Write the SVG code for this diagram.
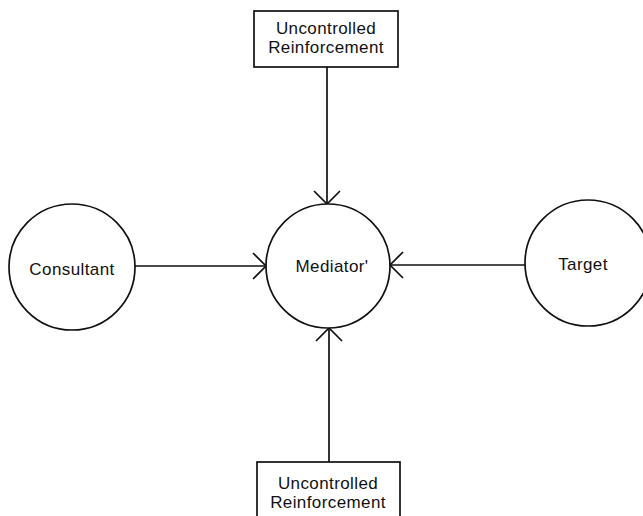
<svg xmlns="http://www.w3.org/2000/svg" width="643" height="516" viewBox="0 0 643 516">
<style>
.shape{fill:#fff;stroke:#111;stroke-width:1.7}
.line{fill:none;stroke:#111;stroke-width:1.7}
text{font-family:"Liberation Sans",Arial,sans-serif;font-size:17px;letter-spacing:0.4px;fill:#111;text-anchor:middle}
</style>
<defs>
<marker id="open" viewBox="0 0 20 30" refX="18" refY="15" markerWidth="20" markerHeight="30" markerUnits="userSpaceOnUse" orient="auto">
<path d="M5,2 L18,15 L5,28" fill="none" stroke="#111" stroke-width="1.7"/>
</marker>
</defs>
<rect width="643" height="516" fill="#fff"/>
<g id="connectors">
<line class="line" x1="327" y1="67" x2="327" y2="204" marker-end="url(#open)"/>
<line class="line" x1="329" y1="462" x2="329" y2="328" marker-end="url(#open)"/>
<line class="line" x1="135" y1="266" x2="266" y2="266" marker-end="url(#open)"/>
<line class="line" x1="525" y1="265" x2="390" y2="265" marker-end="url(#open)"/>
</g>
<g id="top-reinforcement">
<rect class="shape" x="254" y="11" width="144" height="56"/>
<text x="326" y="34">Uncontrolled</text>
<text x="326" y="53">Reinforcement</text>
</g>
<g id="bottom-reinforcement">
<rect class="shape" x="257" y="462" width="143" height="60"/>
<text x="328" y="489">Uncontrolled</text>
<text x="328" y="508">Reinforcement</text>
</g>
<g id="consultant">
<circle class="shape" cx="72" cy="267" r="63"/>
<text x="72" y="275">Consultant</text>
</g>
<g id="mediator">
<circle class="shape" cx="328" cy="266" r="62"/>
<text x="332" y="272">Mediator'</text>
</g>
<g id="target">
<circle class="shape" cx="588" cy="263" r="63"/>
<text x="583" y="270">Target</text>
</g>
</svg>
